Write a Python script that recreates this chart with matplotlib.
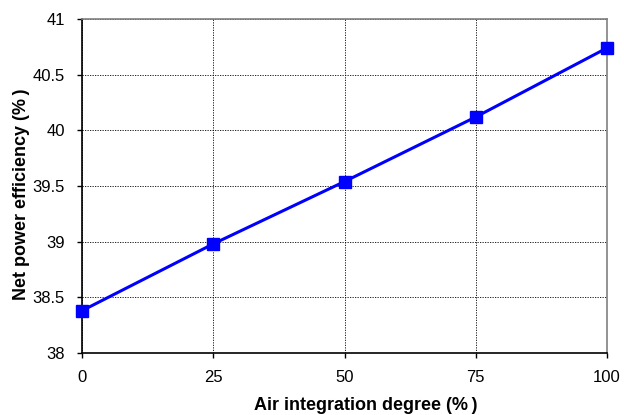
import matplotlib
matplotlib.use('Agg')
import matplotlib.pyplot as plt

# datos
integracion = [0, 25, 50, 75, 100]
eficiencia = [38.38, 38.98, 39.54, 40.12, 40.74]
xticks = [0, 25, 50, 75, 100]
yticks = [38, 38.5, 39, 39.5, 40, 40.5, 41]
yticklabels = ['38', '38.5', '39', '39.5', '40', '40.5', '41']

plt.rcParams['font.family'] = ['Liberation Sans', 'DejaVu Sans']

fig = plt.figure(figsize=(6.24, 4.15), dpi=100)
ax = fig.add_axes([0.1314, 0.1494, 0.8414, 0.8048])

ax.plot(integracion, eficiencia, color='#0000ff', linewidth=2.2,
        marker='s', markersize=8, clip_on=False, zorder=3)

ax.set_xlim(0, 100)
ax.set_ylim(38, 41)
ax.set_xticks(xticks)
ax.set_yticks(yticks)
ax.set_yticklabels(yticklabels)
ax.tick_params(axis='both', labelsize=12, length=3.6, width=1, color='black')
ax.tick_params(axis='y', pad=8.6)
ax.tick_params(axis='x', pad=8.5)

ax.grid(True, color='black', linestyle=(0, (1.5, 1.5)), linewidth=0.6)
ax.set_axisbelow(True)

for s in ['left', 'bottom']:
    ax.spines[s].set_color('black')
    ax.spines[s].set_linewidth(1.2)
for s in ['top', 'right']:
    ax.spines[s].set_color('#808080')
    ax.spines[s].set_linewidth(1.2)

ax.set_xlabel('Air integration degree (%\u2009)', fontsize=13, fontweight='bold')
ax.set_ylabel('Net power efficiency (%\u2009)', fontsize=13, fontweight='bold')
ax.xaxis.set_label_coords(0.541, -0.132)
ax.yaxis.set_label_coords(-0.099, 0.476)

fig.savefig('out.png', dpi=100)
